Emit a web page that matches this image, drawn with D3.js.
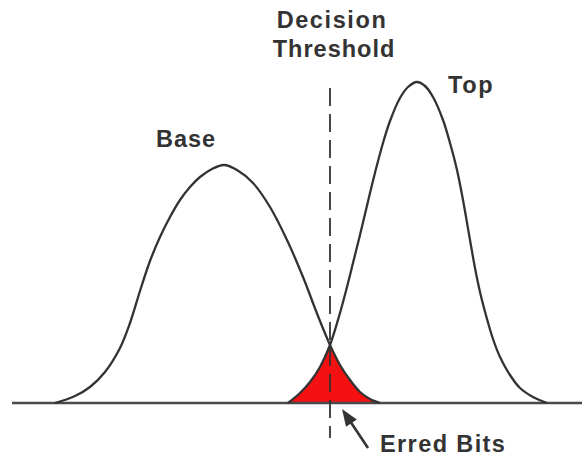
<!DOCTYPE html>
<html>
<head>
<meta charset="utf-8">
<script src="https://cdn.jsdelivr.net/npm/d3@7"></script>
<style>
  html, body { margin: 0; padding: 0; background: #fff; }
  svg { display: block; }
  text { font-family: "Liberation Sans", Arial, Helvetica, sans-serif; font-weight: bold; fill: #333; }
</style>
</head>
<body>
<div id="chart"></div>
<script>
// Curve samples: x = signal level, h = density (arbitrary units)
const baseX = [4.3, 6.3, 7.8, 9.3, 10.8, 11.8, 12.8, 13.8, 14.8, 15.8, 16.8, 17.8, 18.8, 20.0, 21.2, 22.5, 24.1, 25.8, 27.5, 29.1, 30.6, 31.8, 32.8, 33.8, 34.8, 35.8, 36.8];
const baseH = [0, 0.7, 1.6, 3.1, 5.5, 8.0, 11.2, 14.2, 16.6, 18.6, 20.3, 21.6, 22.6, 23.4, 23.8, 23.3, 22.0, 19.6, 16.3, 12.6, 8.7, 5.8, 3.8, 2.3, 1.1, 0.4, 0];
const topX  = [27.6, 28.8, 29.8, 30.8, 31.8, 32.8, 33.5, 34.1, 34.8, 35.8, 36.5, 37.1, 37.8, 38.8, 39.6, 40.5, 41.3, 42.1, 43.1, 43.8, 44.5, 45.1, 45.8, 46.3, 46.8, 47.5, 48.1, 48.8, 49.8, 50.8, 52.1, 53.5];
const topH  = [0, 1.0, 2.1, 3.6, 5.8, 9.0, 11.6, 14.0, 16.8, 21.0, 23.8, 26.0, 28.2, 30.5, 31.6, 32.1, 31.7, 30.6, 28.3, 26.0, 23.3, 20.3, 16.3, 13.5, 11.1, 8.4, 6.4, 4.6, 2.8, 1.5, 0.6, 0];
const axisExtent = [0, 57];
const threshold = 31.8;
const thresholdSpan = [-3.5, 31.5];
const labels = ["Decision", "Threshold", "Base", "Top", "Erred Bits"];

const W = 582, H = 457;
const x = d3.scaleLinear().domain([0, 57]).range([12, 582]);
const y = d3.scaleLinear().domain([0, 32.1]).range([403, 82]);

const svg = d3.select("#chart").append("svg").attr("width", W).attr("height", H);

const base = baseX.map((v, i) => [v, baseH[i]]);
const top_ = topX.map((v, i) => [v, topH[i]]);

const crv = d3.curveCatmullRom.alpha(0.5);
const line = d3.line().x(d => x(d[0])).y(d => Math.min(y(0), y(d[1]))).curve(crv);
const area = d3.area().x(d => x(d[0])).y0(y(0)).y1(d => y(d[1])).curve(crv);

// clip: area under base curve
svg.append("clipPath").attr("id", "underBase")
  .append("path").attr("d", area(base));

// erred bits region = under both curves
svg.append("path").attr("d", area(top_))
  .attr("clip-path", "url(#underBase)")
  .attr("fill", "#f51111");

// baseline
svg.append("line")
  .attr("x1", x(axisExtent[0])).attr("x2", x(axisExtent[1]))
  .attr("y1", y(0)).attr("y2", y(0))
  .attr("stroke", "#4a4a4a").attr("stroke-width", 2.6);

// curves
[base, top_].forEach(d => {
  svg.append("path").attr("d", line(d))
    .attr("fill", "none").attr("stroke", "#333").attr("stroke-width", 2.3)
    .attr("stroke-linejoin", "round");
});

// threshold dashed line
svg.append("line")
  .attr("x1", x(threshold)).attr("x2", x(threshold))
  .attr("y1", y(thresholdSpan[1])).attr("y2", y(thresholdSpan[0]))
  .attr("stroke", "#333").attr("stroke-width", 1.8)
  .attr("stroke-dasharray", "18,8");

// labels
const fs = 23.5;
const txt = (t, xv, yv, anchor, ls) => svg.append("text")
  .attr("x", x(xv)).attr("y", y(yv))
  .attr("text-anchor", anchor || "start")
  .attr("font-size", fs).attr("letter-spacing", ls)
  .text(t);
txt(labels[0], 32.0, 37.5, "middle", 1.6);
txt(labels[1], 32.2, 34.6, "middle", 1.0);
txt(labels[2], 14.4, 25.6, "start", 1.0);
txt(labels[3], 43.6, 31.0, "start", 1.6);
txt(labels[4], 36.8, -4.9, "start", 1.4);

// arrow to erred bits
const tail = [35.6, -4.5], tip = [33.0, -0.6];
const px = [x(tail[0]), y(tail[1])], pt = [x(tip[0]), y(tip[1])];
const dx = pt[0] - px[0], dy = pt[1] - px[1];
const len = Math.hypot(dx, dy), ux = dx / len, uy = dy / len;
const headL = 17, headW = 6.5;
const bx = pt[0] - ux * headL, by = pt[1] - uy * headL;
svg.append("line")
  .attr("x1", px[0]).attr("y1", px[1]).attr("x2", bx + ux * 2).attr("y2", by + uy * 2)
  .attr("stroke", "#333").attr("stroke-width", 2.6);
svg.append("path")
  .attr("d", d3.line()([pt, [bx - uy * headW, by + ux * headW], [bx + uy * headW, by - ux * headW]]) + "Z")
  .attr("fill", "#333");
</script>
</body>
</html>
